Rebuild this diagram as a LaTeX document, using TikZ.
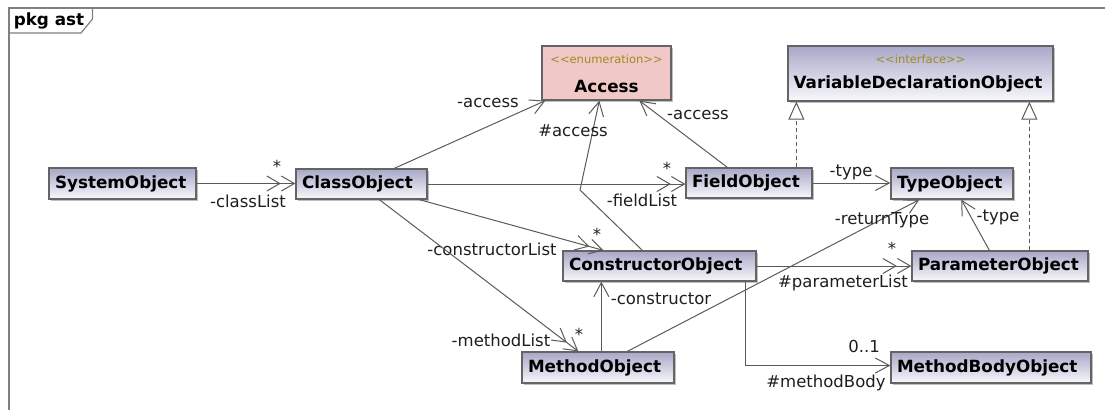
\documentclass[tikz,border=0pt]{standalone}
\usepackage{fontspec}
\setmainfont{DejaVu Sans}
\usetikzlibrary{arrows.meta,calc,shadows}
\definecolor{clsTop}{RGB}{168,168,200}
\definecolor{clsBot}{RGB}{248,248,252}
\definecolor{boxLine}{RGB}{100,100,100}
\definecolor{edgeCol}{RGB}{90,90,90}
\definecolor{stereoCol}{RGB}{160,140,30}
\definecolor{enumFill}{RGB}{240,200,200}
\definecolor{frameCol}{RGB}{128,128,128}
\definecolor{lblCol}{RGB}{30,30,30}
\tikzset{
  boxshape/.style={draw=boxLine, line width=1.3pt, inner sep=0pt,
    general shadow={shadow xshift=1.5pt, shadow yshift=-1.5pt, fill=black!25}},
  clsbox/.style={boxshape, top color=clsTop, bottom color=clsBot},
  cls/.style={clsbox, inner xsep=6pt, inner ysep=0pt, align=left,
    font=\fontsize{16.8}{18}\selectfont\bfseries},
  enumbox/.style={boxshape, fill=enumFill},
  nameT/.style={inner sep=0pt, font=\fontsize{16.8}{18}\selectfont\bfseries},
  stereoT/.style={inner sep=0pt, text=stereoCol, font=\fontsize{11.5}{13}\selectfont},
  lbl/.style={inner sep=0pt, text=lblCol, font=\fontsize{16.5}{18}\selectfont},
  rel/.style={draw=edgeCol, line width=1pt},
  nav/.style={rel, -{Straight Barb[length=14pt,width=15pt]}},
  navmany/.style={rel, -{Straight Barb[length=13pt,width=15pt] Straight Barb[length=13pt,width=15pt]}},
  realize/.style={rel, dash pattern=on 4pt off 3pt, -{Triangle[length=18pt,width=16pt,fill=white]}},
}
\begin{document}
\begin{tikzpicture}[x=1pt,y=-1pt]
\useasboundingbox (0,0) rectangle (1105,410);

% frame
\draw[frameCol, line width=1.5pt] (1105,8) -- (9,8) -- (9,410);
\draw[frameCol, line width=1.2pt] (9,33) -- (81,33) -- (92.5,19) -- (92.5,8);
\node[nameT] (pkg) at (49,20.5) {pkg ast};

% classes
\node[cls, text width=135pt, minimum height=31pt] (sys) at (122.5,183.5) {\mbox{SystemObject}};
\node[cls, text width=119pt, minimum height=30pt] (cls) at (361.5,184) {\mbox{ClassObject}};
\node[cls, text width=114pt, minimum height=30pt] (field) at (749,183) {\mbox{FieldObject}};
\node[cls, text width=110pt, minimum height=31pt] (type) at (952,183.5) {\mbox{TypeObject}};
\node[cls, text width=181pt, minimum height=30pt] (ctor) at (659.5,266) {\mbox{ConstructorObject}};
\node[cls, text width=140pt, minimum height=31pt] (meth) at (598,367.5) {\mbox{MethodObject}};
\node[cls, text width=164pt, minimum height=30pt] (param) at (1000,266) {\mbox{ParameterObject}};
\node[cls, text width=188pt, minimum height=31pt] (body) at (991,367.5) {\mbox{MethodBodyObject}};

\node[enumbox, minimum width=129pt, minimum height=54pt] (acc) at (606.5,73) {};
\node[stereoT] (accS) at (606.5,59.5) {<{}<enumeration>{}>};
\node[nameT] (accN) at (606.5,86) {Access};

\node[clsbox, minimum width=265pt, minimum height=55pt] (vdo) at (920.5,73.5) {};
\node[stereoT] (vdoS) at (920.5,59.5) {<{}<interface>{}>};
\node[nameT] (vdoN) at (918,84) {VariableDeclarationObject};

% connectors
\draw[navmany] (sys.east) -- (sys.east -| cls.west);
\node[lbl] (m1) at (277,166) {*};
\node[lbl] (l1) at (248,201) {-classList};

\draw[nav] ($(cls.north west)+(99,0)$) -- ($(acc.south west)+(4,0)$);
\node[lbl] (l2) at (488,103) {-access};

\draw[navmany] (cls.east) -- (cls.east -| field.west);
\node[lbl] (m3) at (667,168) {*};
\node[lbl] (l3) at (642,200) {-fieldList};

\draw[navmany] ($(cls.south west)+(124,0)$) -- ($(ctor.north west)+(41,0)$);
\node[lbl] (m4) at (597,234) {*};
\node[lbl] (l4) at (492,249) {-constructorList};

\draw[navmany] ($(cls.south west)+(84,0)$) -- ($(meth.north west)+(57,0)$);
\node[lbl] (m5) at (579,334) {*};
\node[lbl] (l5) at (501,340) {-methodList};

\draw[nav] ($(field.north west)+(42,0)$) -- ($(acc.south west)+(98,0)$);
\node[lbl] (l6) at (698,115) {-access};

\coordinate (bendA) at (580,190);
\draw[nav] ($(ctor.north west)+(80,0)$) -- (bendA) -- ($(acc.south west)+(58,0)$);
\node[lbl] (l7) at (573,131) {\#access};

\draw[nav] (field.east) -- (field.east -| type.west);
\node[lbl] (l8) at (851,172) {-type};

\coordinate (fv) at ($(field.north west)+(111,0)$);
\draw[realize] (fv) -- (fv |- vdo.south);
\coordinate (pv) at ($(param.north west)+(118,0)$);
\draw[realize] (pv) -- (pv |- vdo.south);

\draw[nav] ($(param.north west)+(78,0)$) -- ($(type.south west)+(71,0)$);
\node[lbl] (l9) at (998,217) {-type};

\draw[nav] ($(meth.north west)+(106,0)$) -- ($(type.south west)+(29,0)$);
\node[lbl] (l10) at (882,220) {-returnType};

\coordinate (mc) at ($(meth.north west)+(80,0)$);
\draw[nav] (mc) -- (mc |- ctor.south);
\node[lbl] (l11) at (661,299) {-constructor};

\draw[navmany] (ctor.east) -- (ctor.east -| param.west);
\node[lbl] (m12) at (892,248) {*};
\node[lbl] (l12) at (843,283) {\#parameterList};

\coordinate (cb) at ($(ctor.south west)+(183,0)$);
\coordinate (bw) at ($(body.west)+(0,-2)$);
\draw[nav] (cb) |- (bw);
\node[lbl] (m13) at (864,346) {0..1};
\node[lbl] (l13) at (826,383) {\#methodBody};
\end{tikzpicture}
\end{document}
